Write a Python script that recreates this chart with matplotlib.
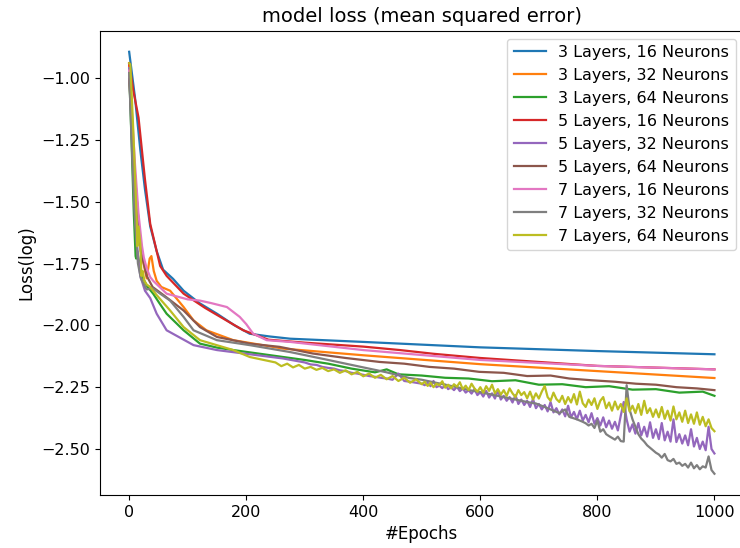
import numpy as np
import matplotlib.pyplot as plt

# training loss (log10 of MSE) per network size, sampled along the epochs
labels = ["3 Layers, 16 Neurons", "3 Layers, 32 Neurons", "3 Layers, 64 Neurons",
          "5 Layers, 16 Neurons", "5 Layers, 32 Neurons", "5 Layers, 64 Neurons",
          "7 Layers, 16 Neurons", "7 Layers, 32 Neurons", "7 Layers, 64 Neurons"]

ep_3_16 = [0, 10, 19, 27, 36, 47, 58, 75, 93, 120, 150, 180, 206, 240, 275, 400, 600, 800, 1000]
loss_3_16 = [-0.894, -1.08, -1.29, -1.45, -1.60, -1.70, -1.775, -1.812, -1.86, -1.91, -1.953,
             -2.00, -2.034, -2.045, -2.054, -2.067, -2.089, -2.104, -2.117]

ep_3_32 = [0, 5, 10, 20, 30, 35, 38, 42, 47, 55, 70, 93, 110, 132, 178, 263, 400, 600, 800, 1000]
loss_3_32 = [-0.95, -1.20, -1.40, -1.70, -1.81, -1.73, -1.72, -1.78, -1.82, -1.845, -1.86, -1.926,
             -1.98, -2.02, -2.06, -2.094, -2.121, -2.157, -2.185, -2.213]

ep_3_64 = [0, 4, 8, 11, 12, 14, 20, 30, 41, 53, 64, 80, 93, 121, 150, 178, 263, 300, 340, 380,
           420, 440, 460, 500, 540, 580, 620, 660, 700, 740, 780, 820, 860, 900, 940, 980, 1000]
loss_3_64 = [-0.97, -1.25, -1.55, -1.72, -1.73, -1.70, -1.79, -1.84, -1.872, -1.915, -1.953, -1.99,
             -2.02, -2.074, -2.09, -2.10, -2.128, -2.14, -2.155, -2.175, -2.19, -2.178, -2.198, -2.203,
             -2.212, -2.215, -2.226, -2.222, -2.24, -2.238, -2.25, -2.246, -2.26, -2.258, -2.272,
             -2.268, -2.285]

ep_5_16 = [0, 7, 16, 27, 36, 47, 53, 64, 93, 130, 166, 195, 238, 300, 400, 463, 520, 600, 800, 1000]
loss_5_16 = [-0.94, -1.05, -1.16, -1.41, -1.59, -1.70, -1.76, -1.80, -1.872, -1.93, -1.98, -2.02,
             -2.058, -2.07, -2.086, -2.10, -2.115, -2.132, -2.164, -2.178]

ep_5_32 = ([0, 5, 10, 15, 19, 27, 36, 47, 64, 87, 110, 150, 200, 263]
           + list(range(300, 500, 10)) + list(range(500, 1001, 5)))
loss_5_32 = [-0.96, -1.25, -1.55, -1.72, -1.80, -1.86, -1.89, -1.953, -2.02, -2.05, -2.08, -2.10,
             -2.115, -2.134,
             # 300 .. 490
             -2.150, -2.158, -2.160, -2.168, -2.172, -2.175, -2.182, -2.185, -2.192, -2.195, -2.200,
             -2.205, -2.208, -2.212, -2.215, -2.220, -2.195, -2.225, -2.228, -2.232,
             # 500 .. 1000
             -2.236, -2.242, -2.232, -2.246, -2.225, -2.250, -2.244, -2.254, -2.240, -2.258,
             -2.250, -2.262, -2.248, -2.266, -2.255, -2.272, -2.262, -2.276, -2.258, -2.282,
             -2.270, -2.288, -2.265, -2.292, -2.275, -2.296, -2.262, -2.300, -2.285, -2.305,
             -2.290, -2.312, -2.282, -2.318, -2.300, -2.322, -2.305, -2.330, -2.298, -2.335,
             -2.318, -2.340, -2.322, -2.348, -2.310, -2.352, -2.335, -2.360, -2.340, -2.368,
             -2.325, -2.372, -2.350, -2.380, -2.345, -2.385, -2.362, -2.392, -2.355, -2.398,
             -2.375, -2.405, -2.372, -2.412, -2.385, -2.418, -2.390, -2.425, -2.365, -2.310,
             -2.380, -2.430, -2.400, -2.438, -2.395, -2.445, -2.410, -2.450, -2.392, -2.455,
             -2.420, -2.460, -2.395, -2.465, -2.430, -2.470, -2.380, -2.472, -2.440, -2.478,
             -2.445, -2.485, -2.420, -2.490, -2.455, -2.500, -2.470, -2.505, -2.410, -2.500,
             -2.518]

ep_5_64 = [0, 5, 10, 20, 30, 40, 60, 93, 121, 150, 206, 257, 314, 370, 428, 470, 513, 555, 598,
           640, 680, 720, 752, 790, 830, 866, 900, 935, 970, 1000]
loss_5_64 = [-1.005, -1.20, -1.40, -1.70, -1.80, -1.845, -1.88, -1.94, -2.007, -2.047, -2.074,
             -2.087, -2.114, -2.132, -2.148, -2.155, -2.168, -2.175, -2.188, -2.192, -2.205, -2.203,
             -2.215, -2.222, -2.228, -2.236, -2.24, -2.25, -2.255, -2.262]

ep_7_16 = [0, 5, 10, 16, 22, 25, 30, 36, 41, 64, 100, 121, 140, 167, 189, 200, 212, 235, 275,
           400, 600, 800, 1000]
loss_7_16 = [-0.97, -1.15, -1.35, -1.55, -1.68, -1.725, -1.77, -1.805, -1.82, -1.872, -1.895,
             -1.90, -1.91, -1.926, -1.966, -1.995, -2.034, -2.06, -2.067, -2.10, -2.14, -2.164,
             -2.178]

ep_7_32 = ([0, 5, 10, 15, 20, 30, 40, 53, 70, 93, 110, 150, 206, 275, 330, 400, 440, 479, 500,
            520, 540, 560, 581, 600, 620, 640, 660, 680, 695, 710, 720, 735, 745, 752, 765, 775]
           + list(range(780, 1001, 5)))
loss_7_32 = [-0.98, -1.30, -1.58, -1.75, -1.81, -1.855, -1.85, -1.872, -1.90, -1.966, -2.02, -2.06,
             -2.08, -2.108, -2.135, -2.17, -2.19, -2.213, -2.22, -2.23, -2.24, -2.25, -2.262, -2.27,
             -2.28, -2.29, -2.30, -2.31, -2.316, -2.33, -2.34, -2.355, -2.34, -2.37, -2.38, -2.39,
             # 780 .. 1000
             -2.396, -2.405, -2.398, -2.415, -2.385, -2.430, -2.420, -2.440, -2.448, -2.455,
             -2.462, -2.450, -2.468, -2.470, -2.242, -2.340, -2.380, -2.410, -2.440, -2.458,
             -2.470, -2.485, -2.495, -2.505, -2.515, -2.522, -2.535, -2.520, -2.545, -2.550,
             -2.540, -2.560, -2.555, -2.568, -2.560, -2.575, -2.555, -2.578, -2.565, -2.582,
             -2.570, -2.575, -2.530, -2.585, -2.600]

ep_7_64 = ([0, 2, 7, 11, 13, 14, 16, 19, 21, 23, 26, 30, 36, 46, 70, 93, 121, 178, 206, 240]
           + list(range(250, 500, 10)) + list(range(500, 1001, 5)))
loss_7_64 = [-0.94, -0.945, -1.21, -1.45, -1.58, -1.68, -1.60, -1.67, -1.80, -1.78, -1.82, -1.835,
             -1.845, -1.875, -1.94, -2.007, -2.06, -2.10, -2.128, -2.145,
             # 250 .. 490
             -2.150, -2.165, -2.155, -2.170, -2.160, -2.175, -2.168, -2.180, -2.172, -2.185, -2.178,
             -2.192, -2.182, -2.198, -2.188, -2.206, -2.195, -2.212, -2.200, -2.218, -2.205, -2.225,
             -2.212, -2.232, -2.218,
             # 500 .. 1000
             -2.238, -2.228, -2.245, -2.232, -2.250, -2.236, -2.242, -2.226, -2.252, -2.240,
             -2.255, -2.238, -2.248, -2.230, -2.258, -2.244, -2.262, -2.236, -2.255, -2.268,
             -2.250, -2.272, -2.246, -2.265, -2.240, -2.275, -2.258, -2.280, -2.262, -2.285,
             -2.255, -2.275, -2.290, -2.262, -2.282, -2.270, -2.295, -2.268, -2.300, -2.275,
             -2.296, -2.268, -2.245, -2.290, -2.305, -2.272, -2.298, -2.310, -2.285, -2.318,
             -2.290, -2.312, -2.278, -2.320, -2.268, -2.315, -2.330, -2.300, -2.322, -2.295,
             -2.338, -2.305, -2.290, -2.335, -2.312, -2.345, -2.308, -2.340, -2.318, -2.350,
             -2.295, -2.348, -2.325, -2.355, -2.318, -2.362, -2.305, -2.355, -2.335, -2.370,
             -2.340, -2.372, -2.330, -2.378, -2.345, -2.385, -2.328, -2.380, -2.352, -2.390,
             -2.345, -2.395, -2.360, -2.398, -2.352, -2.402, -2.370, -2.408, -2.380, -2.415,
             -2.428]

epochs = [ep_3_16, ep_3_32, ep_3_64, ep_5_16, ep_5_32, ep_5_64, ep_7_16, ep_7_32, ep_7_64]
losses = [loss_3_16, loss_3_32, loss_3_64, loss_5_16, loss_5_32, loss_5_64, loss_7_16, loss_7_32, loss_7_64]

plt.rcParams['font.size'] = 11.5
fig = plt.figure(figsize=(7.4, 5.48), dpi=100)
ax = fig.add_axes([0.135, 0.097, 0.87, 0.847])

for i in range(len(labels)):
    ax.plot(epochs[i], losses[i], color='C%d' % i, linewidth=1.6, label=labels[i])

ax.set_title('model loss (mean squared error)', fontsize=14)
ax.set_xlabel('#Epochs', fontsize=12)
ax.set_ylabel('Loss(log)', fontsize=12)
ax.set_xticks([0, 200, 400, 600, 800, 1000])
ax.set_yticks([-1.0, -1.25, -1.5, -1.75, -2.0, -2.25, -2.5])
ax.legend(loc='upper right', fontsize=11.5)

fig.savefig('out.png')
